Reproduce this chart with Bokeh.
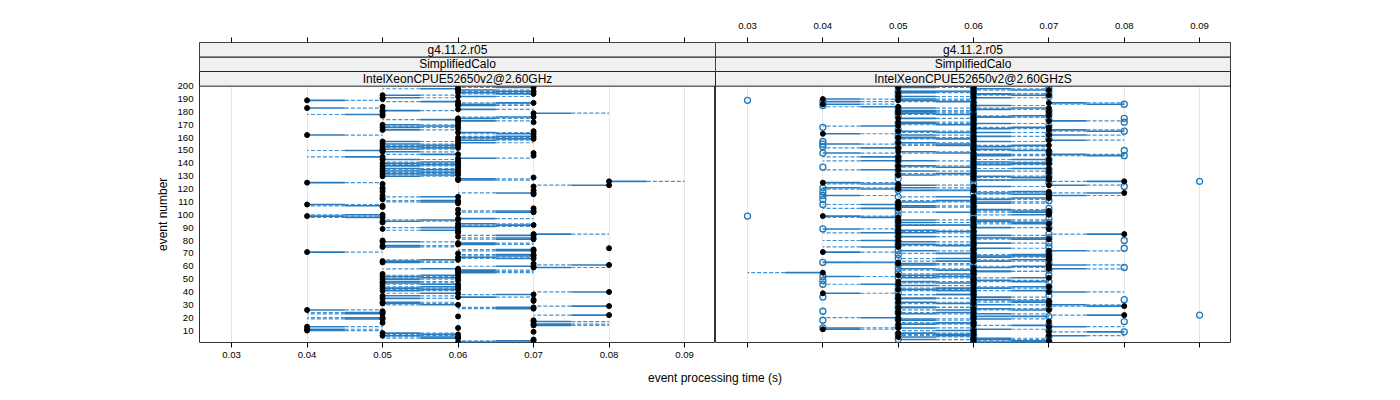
import numpy as np
from bokeh.plotting import figure
from bokeh.models import Range1d, FixedTicker, Div, Label
from bokeh.layouts import row, column
from bokeh.core.properties import value
from bokeh.embed import file_html
from bokeh.resources import INLINE

FONT = "Liberation Sans"

# ---------------- data (times in ms, event number = position in list, 1..200) ---------------
x_ticks = [0.03, 0.04, 0.05, 0.06, 0.07, 0.08, 0.09]
x_tick_labels = ["0.03", "0.04", "0.05", "0.06", "0.07", "0.08", "0.09"]
y_ticks = [10, 20, 30, 40, 50, 60, 70, 80, 90, 100, 110, 120, 130, 140, 150, 160, 170, 180, 190, 200]

strips_left = ["g4.11.2.r05", "SimplifiedCalo", "IntelXeonCPUE52650v2@2.60GHz"]
strips_right = ["g4.11.2.r05", "SimplifiedCalo", "IntelXeonCPUE52650v2@2.60GHzS"]

# left panel: measured time per event (points) and the compared time (line end)
left_time = [
    60, 70, 70, 60, 60, 50, 60, 50, 70, 40, 40, 60, 40, 70, 70, 50, 70, 70, 50, 50,
    60, 80, 50, 50, 50, 40, 70, 70, 80, 60, 50, 50, 70, 70, 50, 60, 50, 70, 60, 80,
    50, 60, 50, 60, 50, 60, 50, 50, 60, 50, 60, 50, 60, 50, 60, 60, 60, 60, 70, 70,
    80, 70, 50, 50, 60, 70, 60, 70, 70, 60, 40, 70, 70, 80, 50, 50, 60, 60, 50, 50,
    70, 70, 60, 70, 70, 60, 60, 60, 50, 60, 60, 70, 60, 50, 50, 60, 60, 50, 40, 50,
    60, 70, 70, 60, 70, 50, 50, 40, 60, 60, 60, 50, 50, 60, 50, 70, 70, 50, 70, 50,
    50, 70, 80, 50, 40, 80, 60, 60, 70, 50, 60, 50, 60, 50, 60, 50, 60, 50, 60, 50,
    60, 60, 50, 60, 50, 70, 60, 70, 50, 50, 50, 60, 50, 60, 50, 60, 50, 60, 70, 60,
    70, 40, 70, 60, 70, 50, 60, 50, 60, 50, 60, 70, 60, 60, 60, 70, 50, 50, 70, 50,
    50, 60, 40, 50, 60, 60, 70, 60, 40, 50, 50, 60, 50, 70, 60, 70, 60, 60, 70, 60,
]
left_ref = [
    70, 60, 70, 50, 50, 60, 50, 60, 70, 50, 50, 60, 50, 80, 80, 50, 80, 70, 40, 40,
    60, 70, 40, 40, 50, 50, 60, 60, 70, 50, 60, 60, 70, 70, 60, 70, 60, 60, 50, 70,
    60, 50, 60, 50, 50, 50, 60, 60, 60, 60, 50, 60, 50, 50, 70, 70, 70, 50, 80, 60,
    70, 70, 60, 60, 50, 60, 70, 60, 60, 60, 50, 60, 60, 80, 60, 60, 70, 70, 60, 50,
    60, 60, 60, 60, 80, 60, 60, 50, 50, 50, 70, 60, 70, 50, 60, 50, 70, 40, 50, 40,
    60, 60, 60, 60, 70, 50, 40, 50, 60, 50, 50, 50, 50, 50, 50, 70, 60, 50, 70, 50,
    50, 70, 70, 50, 50, 90, 70, 70, 70, 60, 50, 60, 50, 60, 50, 60, 60, 60, 50, 60,
    50, 60, 60, 70, 40, 70, 50, 70, 60, 40, 60, 50, 60, 50, 60, 70, 60, 70, 60, 70,
    60, 50, 60, 70, 70, 60, 60, 60, 50, 60, 60, 70, 70, 50, 70, 60, 50, 40, 80, 50,
    60, 70, 50, 50, 70, 70, 60, 50, 50, 50, 60, 70, 60, 60, 70, 60, 70, 50, 60, 60,
]

# right panel: black points + their line ends, blue open circles + their line ends
right_time = [
    60, 70, 60, 60, 50, 70, 60, 50, 70, 60, 40, 50, 70, 60, 50, 60, 70, 50, 60, 50,
    60, 80, 50, 60, 50, 70, 60, 50, 80, 70, 60, 50, 70, 60, 50, 60, 50, 60, 40, 70,
    60, 50, 60, 70, 60, 50, 60, 50, 60, 60, 70, 60, 50, 60, 40, 60, 60, 70, 60, 70,
    70, 50, 50, 60, 70, 60, 70, 60, 70, 60, 40, 70, 60, 60, 50, 60, 50, 60, 60, 50,
    70, 60, 50, 60, 80, 50, 60, 50, 70, 60, 50, 60, 70, 50, 60, 50, 60, 50, 40, 70,
    70, 60, 70, 60, 50, 60, 50, 50, 60, 50, 60, 60, 70, 60, 70, 70, 80, 70, 60, 50,
    50, 60, 70, 50, 40, 80, 70, 60, 70, 60, 50, 60, 70, 60, 50, 70, 60, 50, 60, 70,
    60, 50, 70, 60, 50, 60, 70, 60, 50, 70, 60, 50, 60, 70, 60, 50, 60, 70, 60, 50,
    60, 70, 40, 60, 50, 70, 60, 70, 50, 60, 60, 50, 70, 60, 50, 60, 70, 60, 50, 70,
    50, 60, 70, 50, 60, 40, 70, 60, 50, 40, 60, 50, 70, 60, 50, 60, 70, 60, 50, 60,
]
right_ref = [
    70, 60, 70, 60, 60, 80, 50, 60, 70, 50, 50, 60, 80, 60, 60, 50, 70, 60, 70, 40,
    70, 70, 60, 50, 50, 60, 70, 60, 70, 80, 50, 60, 60, 70, 60, 70, 50, 50, 50, 80,
    50, 60, 70, 60, 60, 40, 50, 60, 70, 60, 60, 50, 60, 60, 30, 70, 50, 80, 70, 60,
    80, 60, 40, 70, 60, 50, 70, 70, 60, 50, 50, 80, 60, 70, 40, 50, 60, 70, 60, 40,
    60, 70, 60, 60, 70, 40, 50, 60, 70, 70, 50, 50, 60, 60, 70, 60, 60, 40, 50, 60,
    70, 50, 60, 70, 40, 60, 60, 40, 70, 60, 50, 70, 60, 50, 80, 60, 70, 60, 50, 40,
    60, 70, 80, 40, 50, 70, 60, 60, 60, 70, 60, 50, 70, 70, 40, 60, 50, 60, 70, 60,
    70, 40, 60, 60, 40, 70, 80, 50, 60, 60, 70, 40, 70, 60, 50, 60, 70, 80, 50, 60,
    70, 80, 50, 50, 60, 80, 70, 60, 40, 50, 70, 60, 80, 60, 60, 70, 60, 50, 60, 70,
    60, 70, 60, 40, 70, 50, 80, 50, 60, 50, 70, 60, 60, 70, 60, 50, 60, 70, 60, 50,
]
right_alt_time = [
    70, 60, 50, 60, 70, 60, 50, 60, 80, 70, 60, 40, 50, 70, 60, 60, 80, 40, 50, 60,
    70, 90, 60, 50, 40, 60, 70, 50, 60, 60, 50, 70, 60, 80, 50, 40, 70, 60, 50, 60,
    70, 50, 60, 70, 50, 40, 60, 70, 40, 60, 50, 40, 70, 60, 50, 60, 70, 50, 80, 60,
    50, 70, 40, 60, 70, 50, 60, 70, 50, 60, 70, 50, 60, 80, 70, 50, 60, 70, 50, 80,
    60, 70, 50, 60, 70, 50, 60, 50, 40, 70, 60, 50, 60, 70, 50, 60, 70, 60, 30, 50,
    60, 70, 50, 60, 70, 50, 60, 40, 50, 60, 70, 40, 60, 50, 40, 70, 60, 40, 50, 60,
    40, 80, 50, 60, 70, 90, 60, 50, 70, 60, 50, 70, 60, 50, 70, 60, 40, 50, 60, 70,
    60, 50, 70, 60, 50, 80, 60, 40, 70, 80, 60, 50, 40, 60, 40, 50, 40, 60, 70, 50,
    60, 50, 70, 60, 80, 50, 60, 40, 70, 60, 50, 80, 60, 70, 80, 60, 50, 70, 60, 50,
    70, 60, 50, 60, 40, 80, 60, 40, 30, 50, 60, 70, 50, 60, 70, 50, 60, 70, 60, 50,
]
right_alt_ref = [
    60, 60, 60, 70, 70, 50, 50, 60, 70, 70, 70, 50, 50, 60, 60, 50, 80, 40, 60, 60,
    60, 90, 70, 50, 40, 50, 70, 60, 60, 70, 50, 60, 60, 80, 60, 40, 70, 50, 50, 60,
    60, 50, 50, 70, 60, 40, 60, 60, 40, 60, 60, 50, 70, 50, 50, 70, 70, 60, 80, 60,
    60, 70, 50, 50, 70, 50, 70, 60, 50, 60, 70, 60, 60, 80, 70, 50, 60, 70, 60, 80,
    60, 60, 50, 70, 70, 60, 60, 50, 50, 70, 60, 60, 60, 60, 50, 70, 70, 60, 30, 50,
    60, 60, 50, 60, 70, 60, 60, 40, 50, 70, 70, 40, 60, 50, 50, 70, 70, 40, 60, 60,
    50, 80, 60, 60, 70, 90, 70, 50, 60, 60, 50, 70, 60, 60, 70, 60, 40, 50, 60, 60,
    60, 60, 70, 60, 50, 70, 70, 50, 70, 80, 60, 50, 40, 50, 50, 50, 40, 60, 70, 60,
    60, 60, 70, 70, 70, 50, 60, 40, 70, 60, 60, 80, 60, 70, 80, 70, 50, 70, 60, 60,
    70, 60, 60, 60, 40, 70, 60, 50, 30, 60, 60, 70, 50, 70, 70, 60, 60, 70, 60, 60,
]

# ---------------- styling ---------------
X_RANGE = (0.02575, 0.0941)
Y_LO, Y_TOP, STRIP_H = 0.7, 200.0, 11.42
Y_HI = Y_TOP + STRIP_H          # bottom strip lives inside the panel frame
SOLID = "#2a7bbd"
DASHED = "#3f92d4"
BLUE = "#1f78b8"
FRAME = "#333333"
STRIP_FILL = "#f0f0f0"
PANEL_H = 299
BOTTOM = 28


def style_x_axis(ax, show_labels, standoff=4):
    ax.ticker = FixedTicker(ticks=x_ticks)
    ax.major_label_overrides = {t: (l if show_labels else "") for t, l in zip(x_ticks, x_tick_labels)}
    ax.axis_line_color = None
    ax.major_tick_in = 0
    ax.major_tick_out = 5
    ax.minor_tick_out = 0
    ax.minor_tick_in = 0
    ax.major_tick_line_color = "black"
    ax.major_label_text_font = FONT
    ax.major_label_text_font_size = "9.6px"
    ax.major_label_text_color = "black"
    ax.major_label_standoff = standoff


def strip_fig(width, min_left, min_right, labels, show_labels):
    # upper two strips
    p = figure(width=width, height=71, x_range=Range1d(*X_RANGE), y_range=Range1d(0, 2),
               output_backend="svg", toolbar_location=None,
               min_border_left=min_left, min_border_right=min_right,
               min_border_top=42, min_border_bottom=0,
               x_axis_location="above", y_axis_location=None)
    p.outline_line_color = FRAME
    p.background_fill_color = STRIP_FILL
    p.border_fill_color = "white"
    p.grid.visible = False
    style_x_axis(p.xaxis[0], show_labels, standoff=9)
    texts = [labels[1], labels[0]]
    bottoms = [0, 1]
    p.quad(left=[X_RANGE[0]] * 2, right=[X_RANGE[1]] * 2, bottom=bottoms, top=[1, 2],
           fill_color=STRIP_FILL, line_color="#222222", line_width=1)
    xc = (X_RANGE[0] + X_RANGE[1]) / 2
    p.text(x=[xc] * 2, y=[b + 0.5 for b in bottoms], text=texts,
           text_font=value(FONT), text_font_size="12px", text_align="center",
           text_baseline="middle", text_color="black")
    return p


def draw_lines(p, times, refs):
    t = np.array(times, dtype=float) / 1000.0
    r = np.array(refs, dtype=float) / 1000.0
    ev = np.arange(1, len(t) + 1)
    m = t != r
    mid = (t + r) / 2.0
    p.segment(x0=mid[m], y0=ev[m], x1=r[m], y1=ev[m], line_color=DASHED,
              line_width=1.2, line_dash="4 2")
    p.segment(x0=t[m], y0=ev[m], x1=mid[m], y1=ev[m], line_color=SOLID, line_width=1.6)


def panel_fig(width, min_left, min_right, y_loc, show_labels, strip_label):
    p = figure(width=width, height=PANEL_H, x_range=Range1d(*X_RANGE), y_range=Range1d(Y_LO, Y_HI),
               output_backend="svg", toolbar_location=None,
               min_border_left=min_left, min_border_right=min_right,
               min_border_top=0, min_border_bottom=BOTTOM,
               x_axis_location="below", y_axis_location=y_loc)
    p.outline_line_color = FRAME
    p.outline_line_width = 1
    p.background_fill_color = "white"
    p.border_fill_color = "white"
    p.ygrid.visible = False
    p.xgrid.ticker = FixedTicker(ticks=x_ticks)
    p.xgrid.grid_line_color = "#e6e6e6"
    p.xgrid.grid_line_width = 1
    style_x_axis(p.xaxis[0], show_labels, standoff=4)
    # bottom strip (third conditioning level)
    p.quad(left=[X_RANGE[0]], right=[X_RANGE[1]], bottom=[Y_TOP], top=[Y_HI],
           fill_color=STRIP_FILL, line_color="#222222", line_width=1, level="overlay")
    p.text(x=[(X_RANGE[0] + X_RANGE[1]) / 2], y=[(Y_TOP + Y_HI) / 2], text=[strip_label],
           text_font=value(FONT), text_font_size="12px", text_align="center",
           text_baseline="middle", text_color="black", level="overlay")
    return p


# ---------------- y label column ---------------
ylab = figure(width=170, height=PANEL_H, x_range=Range1d(0, 170), y_range=Range1d(Y_LO, Y_HI),
              output_backend="svg", toolbar_location=None,
              min_border_left=0, min_border_right=0, min_border_top=0, min_border_bottom=BOTTOM,
              x_axis_location=None, y_axis_location=None)
ylab.outline_line_color = None
ylab.grid.visible = False
ylab.add_layout(Label(x=162, y=(Y_LO + Y_TOP) / 2, text="event number", angle=np.pi / 2,
                      text_align="center", text_baseline="middle", text_font=FONT,
                      text_font_size="12px", text_color="black"))

# ---------------- left panel ---------------
left_strip = strip_fig(715, 199, 0, strips_left, False)
left = panel_fig(545, 29, 0, "left", True, strips_left[2])

yax = left.yaxis[0]
yax.ticker = FixedTicker(ticks=y_ticks)
yax.axis_line_color = None
yax.major_tick_out = 0
yax.major_tick_in = 0
yax.minor_tick_out = 0
yax.minor_tick_in = 0
yax.major_label_text_font = FONT
yax.major_label_text_font_size = "9.6px"
yax.major_label_text_color = "black"
yax.major_label_standoff = 6

draw_lines(left, left_time, left_ref)
ev = np.arange(1, len(left_time) + 1)
left.scatter(x=np.array(left_time) / 1000.0, y=ev, size=5, fill_color="black", line_color="black")

# ---------------- right panel ---------------
right_strip = strip_fig(677, 0, 162, strips_right, True)
right = panel_fig(677, 0, 162, None, False, strips_right[2])

draw_lines(right, right_time, right_ref)
draw_lines(right, right_alt_time, right_alt_ref)
ev_a = np.arange(1, len(right_alt_time) + 1)
right.scatter(x=np.array(right_alt_time) / 1000.0, y=ev_a, size=6, fill_color=None,
              line_color=BLUE, line_width=1.3)
ev_r = np.arange(1, len(right_time) + 1)
right.scatter(x=np.array(right_time) / 1000.0, y=ev_r, size=5, fill_color="black", line_color="black")

xlabel = Div(
    text=("<div style=\"margin-left:38px;width:1354px;text-align:center;"
          "font-family:'Liberation Sans';font-size:12px;line-height:14px;color:black;\">"
          "event processing time (s)</div>"),
    width=1392, height=22, margin=(0, 0, 0, 0))

layout = column(row(left_strip, right_strip), row(ylab, left, right), xlabel)

open("out.html", "w").write(file_html(layout, INLINE))
